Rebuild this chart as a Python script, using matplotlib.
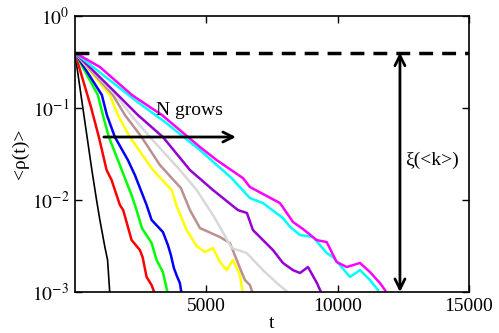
import matplotlib
matplotlib.use("Agg")
import matplotlib.pyplot as plt

plt.rcParams['font.family'] = ['Liberation Serif', 'DejaVu Serif']
plt.rcParams['mathtext.fontset'] = 'stix'

# curves, ordered by growing N
t_black = [0, 647, 826, 952, 1142, 1245, 1332]
rho_black = [0.4, 0.0212, 0.0100, 0.00607, 0.00309, 0.00223, 0.00095]

t_red = [0, 609, 914, 1207, 1397, 1713, 1839, 2159, 2475, 2577, 2730, 2920, 3046]
rho_red = [0.4, 0.1033, 0.0484, 0.0212, 0.0165, 0.00883, 0.00778, 0.00367,
           0.00286, 0.00240, 0.00146, 0.00119, 0.00095]

t_green = [0, 876, 1066, 1294, 1637, 1904, 2159, 2349, 2551, 2920, 3110, 3350, 3541]
rho_green = [0.4, 0.1385, 0.0839, 0.0484, 0.0272, 0.0173, 0.0113, 0.00778,
             0.00496, 0.00341, 0.00223, 0.00165, 0.00095]

t_blue = [0, 1028, 1218, 1523, 2018, 2284, 2730, 2920, 3350, 3541, 3655, 3769,
          3883, 3997, 4062]
rho_blue = [0.4, 0.1385, 0.0839, 0.0484, 0.0272, 0.0187, 0.00883, 0.00607,
            0.00449, 0.00324, 0.00252, 0.00182, 0.00149, 0.00125, 0.00095]

t_yellow = [0, 1332, 1637, 2094, 2969, 3681, 3872, 4252, 4633, 4949, 5254,
            5520, 5775, 6015, 6282, 6396]
rho_yellow = [0.4, 0.1385, 0.0839, 0.0484, 0.0212, 0.01285, 0.00861, 0.00472,
              0.00316, 0.00272, 0.00301, 0.00212, 0.00173, 0.00223, 0.00153, 0.00095]

t_brown = [0, 1447, 1904, 2539, 3236, 4035, 4378, 4759, 5520, 5901, 6282,
           6472, 6662, 6776]
rho_brown = [0.4, 0.1385, 0.0839, 0.0484, 0.0240, 0.01349, 0.00778, 0.00496,
             0.00396, 0.00341, 0.00182, 0.00135, 0.00119, 0.00095]

t_gray = [0, 1561, 2132, 2855, 3997, 4633, 5254, 5585, 5965, 6537, 7157, 7690, 8185]
rho_gray = [0.4, 0.1385, 0.0839, 0.0484, 0.0212, 0.01285, 0.00687, 0.00472,
            0.00301, 0.00266, 0.00173, 0.00125, 0.00095]

t_purple = [0, 1637, 2398, 3350, 4378, 5254, 6205, 6548, 6776, 7043, 7538,
            7918, 8299, 8566, 8870, 9213, 9365, 9403]
rho_purple = [0.4, 0.1385, 0.0839, 0.0484, 0.0212, 0.01285, 0.00778, 0.00722,
              0.00472, 0.00396, 0.00286, 0.00207, 0.00173, 0.00161, 0.00187,
              0.00125, 0.00100, 0.00093]

t_cyan = [0, 2284, 3426, 4759, 5965, 6662, 7157, 7918, 8185, 8566, 9062,
          9582, 9822, 10469, 10850, 11230, 11535, 11611]
rho_cyan = [0.4, 0.122, 0.0705, 0.0349, 0.0173, 0.0105, 0.00927, 0.00637,
            0.00513, 0.00417, 0.00396, 0.00266, 0.00240, 0.00146, 0.00173,
            0.00135, 0.00105, 0.00093]

t_magenta = [0, 952, 2170, 3312, 4759, 5394, 6396, 6662, 7805, 8299, 8680,
             9201, 9582, 9963, 10343, 10850, 11230, 11611, 11802, 11880]
rho_magenta = [0.4, 0.279, 0.1385, 0.0839, 0.0377, 0.0272, 0.0173, 0.01384,
               0.00927, 0.00577, 0.00484, 0.00367, 0.00349, 0.00212, 0.00187,
               0.00207, 0.00165, 0.00125, 0.00105, 0.00093]

curves = [
    (t_black, rho_black, 'black'),
    (t_red, rho_red, '#ff0000'),
    (t_green, rho_green, '#00ff00'),
    (t_blue, rho_blue, '#0000ff'),
    (t_yellow, rho_yellow, '#ffff00'),
    (t_brown, rho_brown, '#bc8f8f'),
    (t_gray, rho_gray, '#d8d8d8'),
    (t_purple, rho_purple, '#9400d3'),
    (t_cyan, rho_cyan, '#00ffff'),
    (t_magenta, rho_magenta, '#ff00ff'),
]

rho_start = 0.4
t_xi = 12370

fig = plt.figure(figsize=(4.99, 3.33), dpi=100)
ax = fig.add_axes([0.150, 0.123, 0.790, 0.829])

for t, r, c in curves:
    ax.plot(t, r, color=c, lw=1.2 if c == 'black' else 1.8, solid_joinstyle='round')

ax.axhline(rho_start, color='black', lw=2.5, linestyle=(0, (4, 2.6)))

ax.annotate('', xy=(t_xi, rho_start), xytext=(t_xi, 1e-3),
            arrowprops=dict(arrowstyle='<->', lw=2, color='black',
                            mutation_scale=18, shrinkA=0, shrinkB=0))
ax.annotate('', xy=(6129, 0.0484), xytext=(1104, 0.0484),
            arrowprops=dict(arrowstyle='->', lw=2, color='black',
                            mutation_scale=18, shrinkA=0, shrinkB=0))
ax.text(4378, 0.095, 'N grows', fontsize=14, ha='center', va='center')
ax.text(12560, 0.027, 'ξ(<k>)', fontsize=14, ha='left', va='center')

ax.set_yscale('log')
ax.set_xlim(0, 15000)
ax.set_ylim(1e-3, 1)
ax.set_xticks([5000, 10000, 15000])
ax.set_xticklabels(['5000', '10000', '15000'])
ax.set_yticks([1e-3, 1e-2, 1e-1, 1])
ax.set_yticklabels([r'$10^{-3}$', r'$10^{-2}$', r'$10^{-1}$', r'$10^{0}$'])
ax.minorticks_off()
ax.tick_params(direction='in', top=True, right=True, length=5, width=1,
               labelsize=14, pad=4)
for s in ax.spines.values():
    s.set_linewidth(1.2)

ax.set_xlabel('t', fontsize=14, labelpad=0)
ax.set_ylabel('<ρ(t)>', fontsize=14, labelpad=2)

fig.savefig('out.png', dpi=100)
